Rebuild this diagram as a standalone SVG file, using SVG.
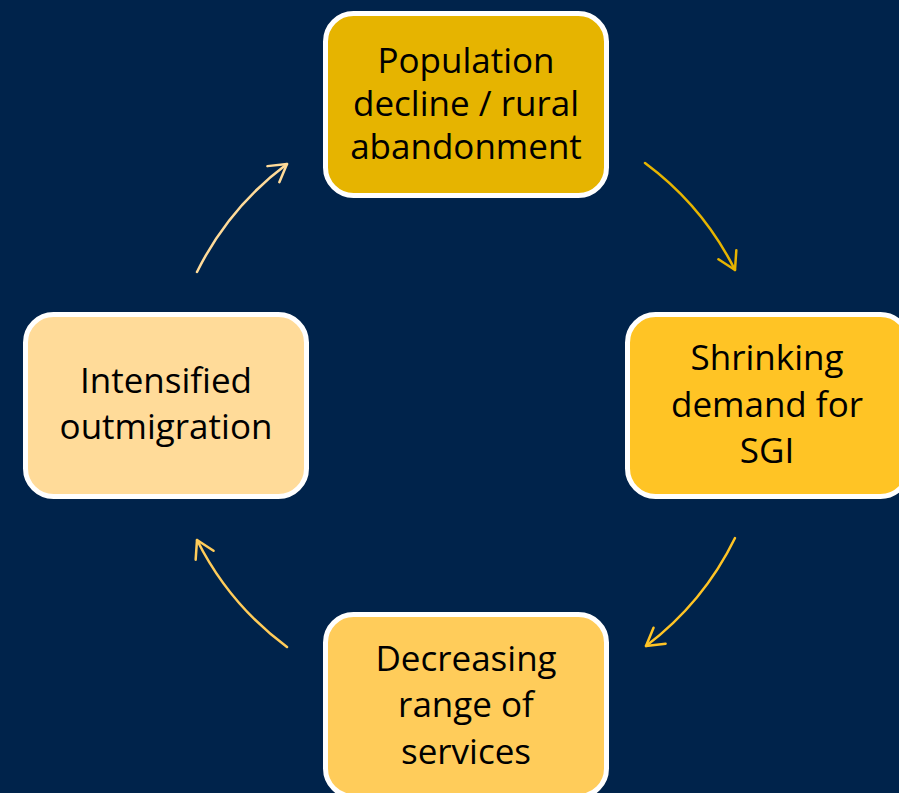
<svg xmlns="http://www.w3.org/2000/svg" width="899" height="793" viewBox="0 0 899 793">
  <style>
    .box { stroke: #ffffff; stroke-width: 5; }
    .lbl { font-family: "Open Sans", "Liberation Sans", sans-serif; font-size: 35px; fill: #000000; text-anchor: middle; }
    .arc { fill: none; stroke-width: 2.5; stroke-linecap: round; }
  </style>
  <defs>
    <marker id="h1" markerUnits="userSpaceOnUse" markerWidth="40" markerHeight="40" viewBox="-20 -20 40 40" refX="0" refY="0" orient="auto">
      <path d="M-17,-10 L0,0 L-17,10" fill="none" stroke="#E6B400" stroke-width="2.5" stroke-linecap="round" stroke-linejoin="round"/>
    </marker>
    <marker id="h2" markerUnits="userSpaceOnUse" markerWidth="40" markerHeight="40" viewBox="-20 -20 40 40" refX="0" refY="0" orient="auto">
      <path d="M-17,-10 L0,0 L-17,10" fill="none" stroke="#FFC425" stroke-width="2.5" stroke-linecap="round" stroke-linejoin="round"/>
    </marker>
    <marker id="h3" markerUnits="userSpaceOnUse" markerWidth="40" markerHeight="40" viewBox="-20 -20 40 40" refX="0" refY="0" orient="auto">
      <path d="M-17,-10 L0,0 L-17,10" fill="none" stroke="#FFCC5A" stroke-width="2.5" stroke-linecap="round" stroke-linejoin="round"/>
    </marker>
    <marker id="h4" markerUnits="userSpaceOnUse" markerWidth="40" markerHeight="40" viewBox="-20 -20 40 40" refX="0" refY="0" orient="auto">
      <path d="M-17,-10 L0,0 L-17,10" fill="none" stroke="#FFDB99" stroke-width="2.5" stroke-linecap="round" stroke-linejoin="round"/>
    </marker>
  </defs>
  <rect x="0" y="0" width="899" height="793" fill="#00234B"/>

  <g id="connectors">
    <path class="arc" stroke="#E6B400" d="M645,163 A301,301 0 0 1 735,270" marker-end="url(#h1)"/>
    <path class="arc" stroke="#FFC425" d="M735,538 A301,301 0 0 1 646,646" marker-end="url(#h2)"/>
    <path class="arc" stroke="#FFCC5A" d="M287,647 A300,300 0 0 1 197,540" marker-end="url(#h3)"/>
    <path class="arc" stroke="#FFDB99" d="M197,272 A300,300 0 0 1 287,164" marker-end="url(#h4)"/>
  </g>

  <g id="node-population">
    <rect class="box" x="325.5" y="13.5" width="281" height="182" rx="28" fill="#E6B400"/>
    <text class="lbl" x="466" y="73">Population</text>
    <text class="lbl" x="466" y="116">decline / rural</text>
    <text class="lbl" x="466" y="159">abandonment</text>
  </g>

  <g id="node-shrinking">
    <rect class="box" x="627.5" y="314.5" width="281" height="182" rx="28" fill="#FFC425"/>
    <text class="lbl" x="767" y="370">Shrinking</text>
    <text class="lbl" x="767" y="417">demand for</text>
    <text class="lbl" x="767" y="463">SGI</text>
  </g>

  <g id="node-decreasing">
    <rect class="box" x="325.5" y="614.5" width="281" height="182" rx="28" fill="#FFCC5A"/>
    <text class="lbl" x="466" y="671">Decreasing</text>
    <text class="lbl" x="466" y="717">range of</text>
    <text class="lbl" x="466" y="764">services</text>
  </g>

  <g id="node-intensified">
    <rect class="box" x="25.5" y="314.5" width="281" height="182" rx="28" fill="#FFDB99"/>
    <text class="lbl" x="166" y="393">Intensified</text>
    <text class="lbl" x="166" y="439">outmigration</text>
  </g>
</svg>
